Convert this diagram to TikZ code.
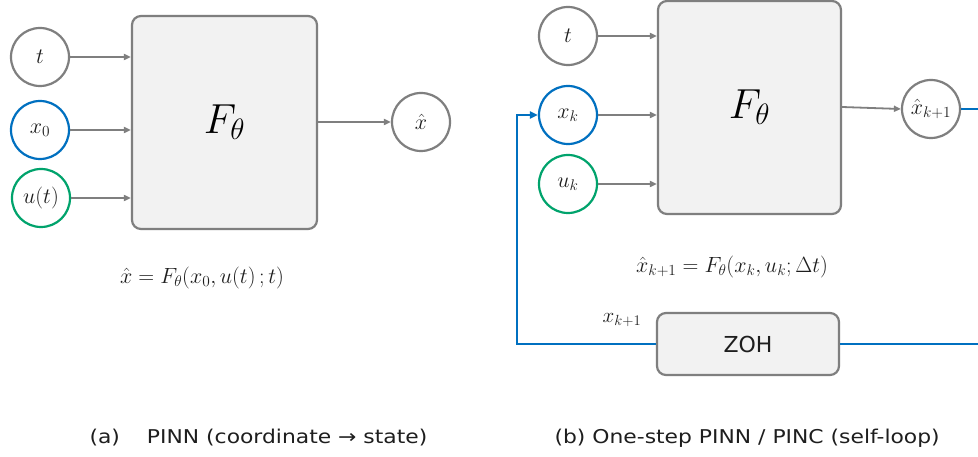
\RequirePackage{fix-cm}
\documentclass[tikz,border=0pt]{standalone}
\usepackage{fontspec}
\usetikzlibrary{arrows.meta}
\newfontfamily\capfont[FakeStretch=1.15]{DejaVu Sans}
\newfontfamily\zohfont{DejaVu Sans}
\definecolor{lgray}{HTML}{7F7F7F}
\definecolor{boxfill}{HTML}{F2F2F2}
\definecolor{pblue}{HTML}{0070C0}
\definecolor{pgreen}{HTML}{00A36C}
\definecolor{txt}{HTML}{1E1E1E}
\begin{document}
\begin{tikzpicture}[x=1pt,y=-1pt,
  circ/.style={circle, draw=lgray, line width=2.2pt, minimum size=58pt, inner sep=0pt, fill=white, text=txt, font=\fontsize{22}{24}\selectfont},
  fbox/.style={draw=lgray, line width=2.2pt, fill=boxfill, rounded corners=9pt, inner sep=0pt, text=black},
  arr/.style={draw=lgray, line width=1.8pt, -{Triangle[length=7pt,width=6pt]}},
  bline/.style={draw=pblue, line width=2.6pt},
  eq/.style={text=txt, font=\fontsize{22}{24}\selectfont},
  captext/.style={text=txt, font=\capfont\fontsize{19}{21}\selectfont, anchor=west}]
\useasboundingbox (0,0) rectangle (978,457);
\clip (0,0) rectangle (978,457);
\fill[white] (0,0) rectangle (978,457);

% ---------- panel (a) ----------
\node[fbox, minimum width=185pt, minimum height=213pt] (F1) at (224.5,122.5) {\fontsize{42}{46}\selectfont$F_\theta$};
\node[circ] (ta) at (40,57) {$t$};
\node[circ, draw=pblue] (x0) at (40,130) {$x_0$};
\node[circ, draw=pgreen] (ut) at (41,198) {$u(t)$};
\node[circ] (xh) at (421,122) {$\hat{x}$};
\draw[arr] (ta) -- (ta -| F1.west);
\draw[arr] (x0) -- (x0 -| F1.west);
\draw[arr] (ut) -- (ut -| F1.west);
\draw[arr] (F1.east |- xh) -- (xh.west);
\node[eq] (eqa) at (202,278) {$\hat{x} = F_\theta(x_0, u(t)\,;t)$};
\node[captext] (capa) at (86,438) {(a)\hspace{27pt}PINN (coordinate → state)};

% ---------- panel (b) ----------
\node[fbox, minimum width=183pt, minimum height=213pt] (F2) at (749.5,107.5) {\fontsize{42}{46}\selectfont$F_\theta$};
\node[circ] (tb) at (568,36) {$t$};
\node[circ, draw=pblue] (xk) at (568,115) {$x_k$};
\node[circ, draw=pgreen] (uk) at (568,184) {$u_k$};
\node[circ, font=\fontsize{22}{24}\selectfont] (xh2) at (931,109) {$\hat{x}_{k+1}$};
\draw[arr] (tb) -- (tb -| F2.west);
\draw[arr] (xk) -- (xk -| F2.west);
\draw[arr] (uk) -- (uk -| F2.west);
\draw[arr] (F2.east |- 0,107) -- (xh2.west);
\node[eq] (eqb) at (732,267) {$\hat{x}_{k+1} = F_\theta(x_k, u_k; \Delta t)$};
\node[fbox, minimum width=182pt, minimum height=62pt, text=txt, font=\zohfont\fontsize{22}{24}\selectfont] (zoh) at (748,344) {ZOH};
\node[eq, font=\fontsize{21}{23}\selectfont] (xk1) at (622,320) {$x_{k+1}$};
\coordinate (rt) at (995,109);
\coordinate (rb) at (995,344);
\coordinate (lb) at (517,344);
\draw[bline] (xh2.east) -- (rt) -- (rb) -- (zoh.east);
\draw[bline, -{Triangle[length=8pt,width=7pt]}] (zoh.west) -- (lb) -- (lb |- xk) -- (xk.west);
\node[captext] (capb) at (551,438) {(b) One-step PINN / PINC (self-loop)};
\end{tikzpicture}
\end{document}
